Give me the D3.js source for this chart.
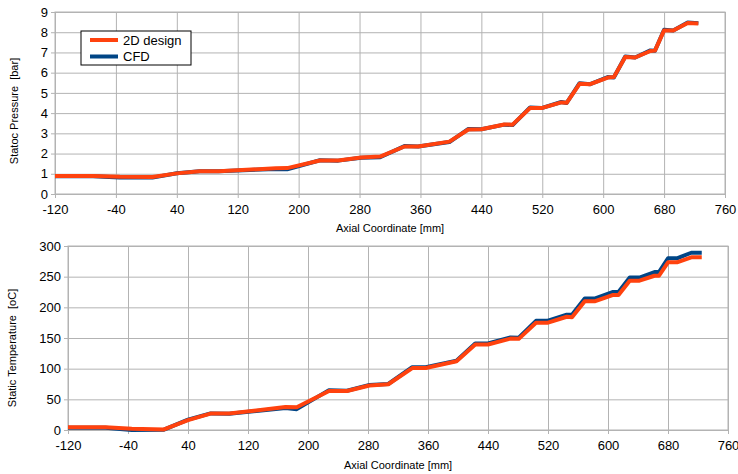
<!DOCTYPE html>
<html>
<head>
<meta charset="utf-8">
<script src="https://cdn.jsdelivr.net/npm/d3@7"></script>
<style>
  body { margin: 0; background: #fff; }
  svg { font-family: "Liberation Sans", Arial, sans-serif; }
  .grid line { stroke: #b3b3b3; }
  .grid path { display: none; }
  .axis path { display: none; }
  .axis line { stroke: #b3b3b3; }
  .axis text { fill: #000; font-size: 13px; }
</style>
</head>
<body>
<div id="chart"></div>
<script>
// axial stations [mm]
var axialX = [-120, -70, -35, 8, 40, 70, 95, 170, 185, 228, 252, 282, 307, 339, 357, 398, 423, 440, 470, 481,
  504, 519, 545, 552, 569, 583, 606, 614, 629, 642, 662, 668, 680, 692, 711, 725];

// static pressure [bar]
var pressure2D = [0.89, 0.89, 0.85, 0.84, 1.02, 1.12, 1.13, 1.27, 1.28, 1.66, 1.66, 1.80, 1.85, 2.35, 2.35, 2.59, 3.19, 3.20, 3.44, 3.43,
  4.25, 4.25, 4.53, 4.51, 5.45, 5.43, 5.76, 5.78, 6.77, 6.75, 7.07, 7.09, 8.09, 8.08, 8.46, 8.43];
var pressureCFD = [0.88, 0.88, 0.82, 0.81, 1.03, 1.12, 1.12, 1.24, 1.22, 1.67, 1.65, 1.79, 1.82, 2.37, 2.35, 2.57, 3.22, 3.20, 3.43, 3.41,
  4.28, 4.25, 4.55, 4.50, 5.48, 5.43, 5.78, 5.76, 6.80, 6.75, 7.10, 7.08, 8.12, 8.08, 8.48, 8.45];

// static temperature [oC]
var temp2D = [4.4, 4.4, 2, 1, 16, 26.8, 26.8, 37.6, 37, 63.5, 63.5, 72.5, 74.6, 101, 101, 112, 139.4, 139.4, 149, 148.6,
  174.8, 174.8, 184.6, 184, 210, 210, 220, 220, 243.4, 243.4, 251.5, 251.5, 273.4, 273.4, 281.5, 281.5];
var tempCFD = [3.5, 3.5, 0, 0.5, 17, 27, 26.5, 36, 34, 65, 64, 73.5, 75, 102.5, 102.5, 113, 141, 141, 151, 150.5,
  178, 178, 188, 188, 214.5, 214.5, 225, 225, 248.5, 248.5, 257.5, 257.5, 280, 280, 289, 289];

var xTicks = [-120, -40, 40, 120, 200, 280, 360, 440, 520, 600, 680, 760];
var pTicks = [0, 1, 2, 3, 4, 5, 6, 7, 8, 9];
var tTicks = [0, 50, 100, 150, 200, 250, 300];

var width = 738,
    height = 474;

var svg = d3.select("#chart").append("svg")
    .attr("width", width)
    .attr("height", height);

// plain hyphen for negative labels, like the original
var fmt = function(d) { return String(d); };

function drawPanel(p) {
  var w = p.right - p.left,
      h = p.bottom - p.top;

  var x = d3.scaleLinear().domain([-120, 760]).range([0, w]);
  var y = d3.scaleLinear().domain(p.yDomain).range([h, 0]);

  var g = svg.append("g").attr("transform", "translate(" + p.left + "," + p.top + ")");

  g.append("g")
      .attr("class", "grid")
      .attr("transform", "translate(0," + h + ")")
      .call(d3.axisBottom(x).tickValues(xTicks).tickSize(-h).tickFormat(""));

  g.append("g")
      .attr("class", "grid")
      .call(d3.axisLeft(y).tickValues(p.yTicks).tickSize(-w).tickFormat(""));

  g.append("rect")
      .attr("width", w)
      .attr("height", h)
      .attr("fill", "none")
      .attr("stroke", "#b3b3b3");

  g.append("g")
      .attr("class", "axis")
      .attr("transform", "translate(0," + h + ")")
      .call(d3.axisBottom(x).tickValues(xTicks).tickSize(4).tickPadding(4).tickFormat(fmt))
    .selectAll("text")
      .attr("dy", "0.9em");

  g.append("g")
      .attr("class", "axis")
      .call(d3.axisLeft(y).tickValues(p.yTicks).tickSize(4).tickPadding(3).tickFormat(fmt));

  var line = d3.line()
      .x(function(d, i) { return x(axialX[i]); })
      .y(function(d) { return y(d); });

  g.append("path")
      .datum(p.cfd)
      .attr("fill", "none")
      .attr("stroke", "#004586")
      .attr("stroke-width", 4)
      .attr("stroke-linejoin", "round")
      .attr("d", line);

  g.append("path")
      .datum(p.design)
      .attr("fill", "none")
      .attr("stroke", "#ff420e")
      .attr("stroke-width", 4)
      .attr("stroke-linejoin", "round")
      .attr("d", line);

  svg.append("text")
      .attr("x", (p.left + p.right) / 2)
      .attr("y", p.xTitleY)
      .attr("text-anchor", "middle")
      .attr("font-size", 11)
      .text("Axial Coordinate [mm]");

  svg.append("text")
      .attr("transform", "translate(" + p.yTitleX + "," + p.yTitleY + ") rotate(-90)")
      .attr("text-anchor", "middle")
      .attr("font-size", 11)
      .style("white-space", "pre")
      .text(p.yTitle);
}

drawPanel({
  left: 55, right: 725, top: 12, bottom: 194,
  yDomain: [0, 9], yTicks: pTicks,
  design: pressure2D, cfd: pressureCFD,
  xTitleY: 232, yTitleX: 18, yTitleY: 111,
  yTitle: "Statoc Pressure  [bar]"
});

drawPanel({
  left: 68, right: 728, top: 246, bottom: 430,
  yDomain: [0, 300], yTicks: tTicks,
  design: temp2D, cfd: tempCFD,
  xTitleY: 469, yTitleX: 16, yTitleY: 348,
  yTitle: "Static Temperature  [oC]"
});

// legend
var legend = svg.append("g").attr("transform", "translate(81,31)");

legend.append("rect")
    .attr("width", 110)
    .attr("height", 34)
    .attr("fill", "#fff")
    .attr("stroke", "#000");

var legendItems = [
  {name: "2D design", color: "#ff420e"},
  {name: "CFD", color: "#004586"}
];

var li = legend.selectAll("g")
    .data(legendItems)
  .enter().append("g")
    .attr("transform", function(d, i) { return "translate(0," + (9 + i * 16.5) + ")"; });

li.append("line")
    .attr("x1", 9)
    .attr("x2", 37)
    .attr("stroke", function(d) { return d.color; })
    .attr("stroke-width", 4);

li.append("text")
    .attr("x", 42)
    .attr("dy", "0.35em")
    .attr("font-size", 13)
    .text(function(d) { return d.name; });
</script>
</body>
</html>
